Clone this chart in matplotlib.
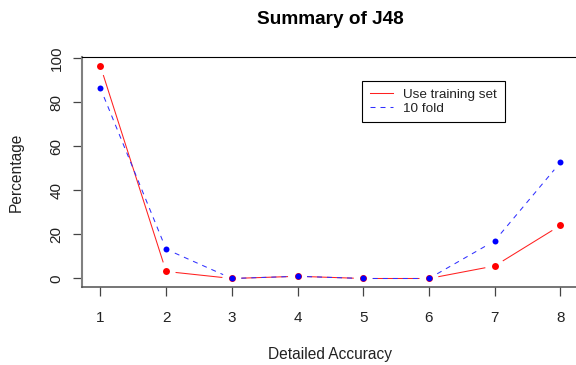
import numpy as np
import matplotlib
matplotlib.use('Agg')
import matplotlib.pyplot as plt

# values
x = [1, 2, 3, 4, 5, 6, 7, 8]
training_set = [96.5, 3.2, 0.0, 1.0, 0.0, 0.0, 5.7, 24.1]
ten_fold = [86.4, 13.3, 0.0, 1.0, 0.0, 0.0, 17.1, 52.7]
series_names = ['Use training set', '10 fold']

plt.rcParams['font.family'] = ['Liberation Sans', 'DejaVu Sans']

W, H = 576, 365
fig = plt.figure(figsize=(W / 100, H / 100), dpi=100)

# axes box in pixels (right side runs off the picture, like the reference)
left, right, top, bottom = 82, 578.8, 57.3, 287.3
ax = fig.add_axes([left / W, 1 - bottom / H, (right - left) / W, (bottom - top) / H])
ax.set_xlim(0.72, 8.28)
ax.set_ylim(-4, 100.45)


def gapped(xs, ys, gap=9.5):
    # R type="b": segments stop short of the points
    pts = ax.transData.transform(np.column_stack([xs, ys]))
    segx, segy = [], []
    for p0, p1 in zip(pts[:-1], pts[1:]):
        d = p1 - p0
        n = np.hypot(*d)
        if n <= 2 * gap:
            continue
        a = p0 + d / n * gap
        b = p1 - d / n * gap
        da, db = ax.transData.inverted().transform([a, b])
        segx += [da[0], db[0], np.nan]
        segy += [da[1], db[1], np.nan]
    return segx, segy


red = '#ff2020'
blue = '#3030ff'

sx, sy = gapped(x, training_set)
ax.plot(sx, sy, color=red, lw=0.75, solid_capstyle='butt')
ax.plot(x, training_set, 'o', color='#ff0000', ms=5.0, mew=0)

sx, sy = gapped(x, ten_fold)
ax.plot(sx, sy, color=blue, lw=0.75, linestyle=(0, (4.8, 4.8)))
ax.plot(x, ten_fold, 'o', color='#0000ff', ms=4.3, mew=0)

# legend drawn with proxy lines
h1, = ax.plot([], [], color=red, lw=0.75)
h2, = ax.plot([], [], color=blue, lw=0.75, linestyle=(0, (4.8, 4.8)))
leg = ax.legend([h1, h2], series_names, loc='upper left',
                bbox_to_anchor=(362.3 / W, 1 - 81 / H), bbox_transform=fig.transFigure,
                fontsize=9.7, frameon=True, fancybox=False, framealpha=1,
                edgecolor='black', borderaxespad=0, borderpad=0.55,
                handlelength=1.75, handletextpad=0.75, labelspacing=0.1)
leg.get_frame().set_linewidth(0.8)
for t in leg.get_texts():
    t.set_color('#222222')

ax.set_xticks(x)
ax.set_yticks([0, 20, 40, 60, 80, 100])
ax.tick_params(axis='both', length=6.3, width=0.9, color='#444444',
               labelsize=11, labelcolor='#222222')
ax.tick_params(axis='x', pad=10.5)
ax.tick_params(axis='y', pad=7)
for lab in ax.get_yticklabels():
    lab.set_rotation(90)
    lab.set_va('center')

ax.spines['right'].set_visible(False)
ax.spines['top'].set_color('black')
ax.spines['top'].set_linewidth(0.8)
ax.spines['left'].set_color('#808080')
ax.spines['left'].set_linewidth(1.5)
ax.spines['bottom'].set_color('#505050')
ax.spines['bottom'].set_linewidth(1.1)

fig.text((left + right) / 2 / W, 1 - 20 / H, 'Summary of J48', ha='center', va='center',
         fontsize=13.7, fontweight='bold', color='black')
fig.text((left + right) / 2 / W, 1 - 355 / H, 'Detailed Accuracy', ha='center', va='center',
         fontsize=11.2, color='#222222')
fig.text(16.7 / W, 1 - 172 / H, 'Percentage', ha='center', va='center', rotation=90,
         fontsize=11.2, color='#222222')

fig.savefig('out.png', dpi=100)
